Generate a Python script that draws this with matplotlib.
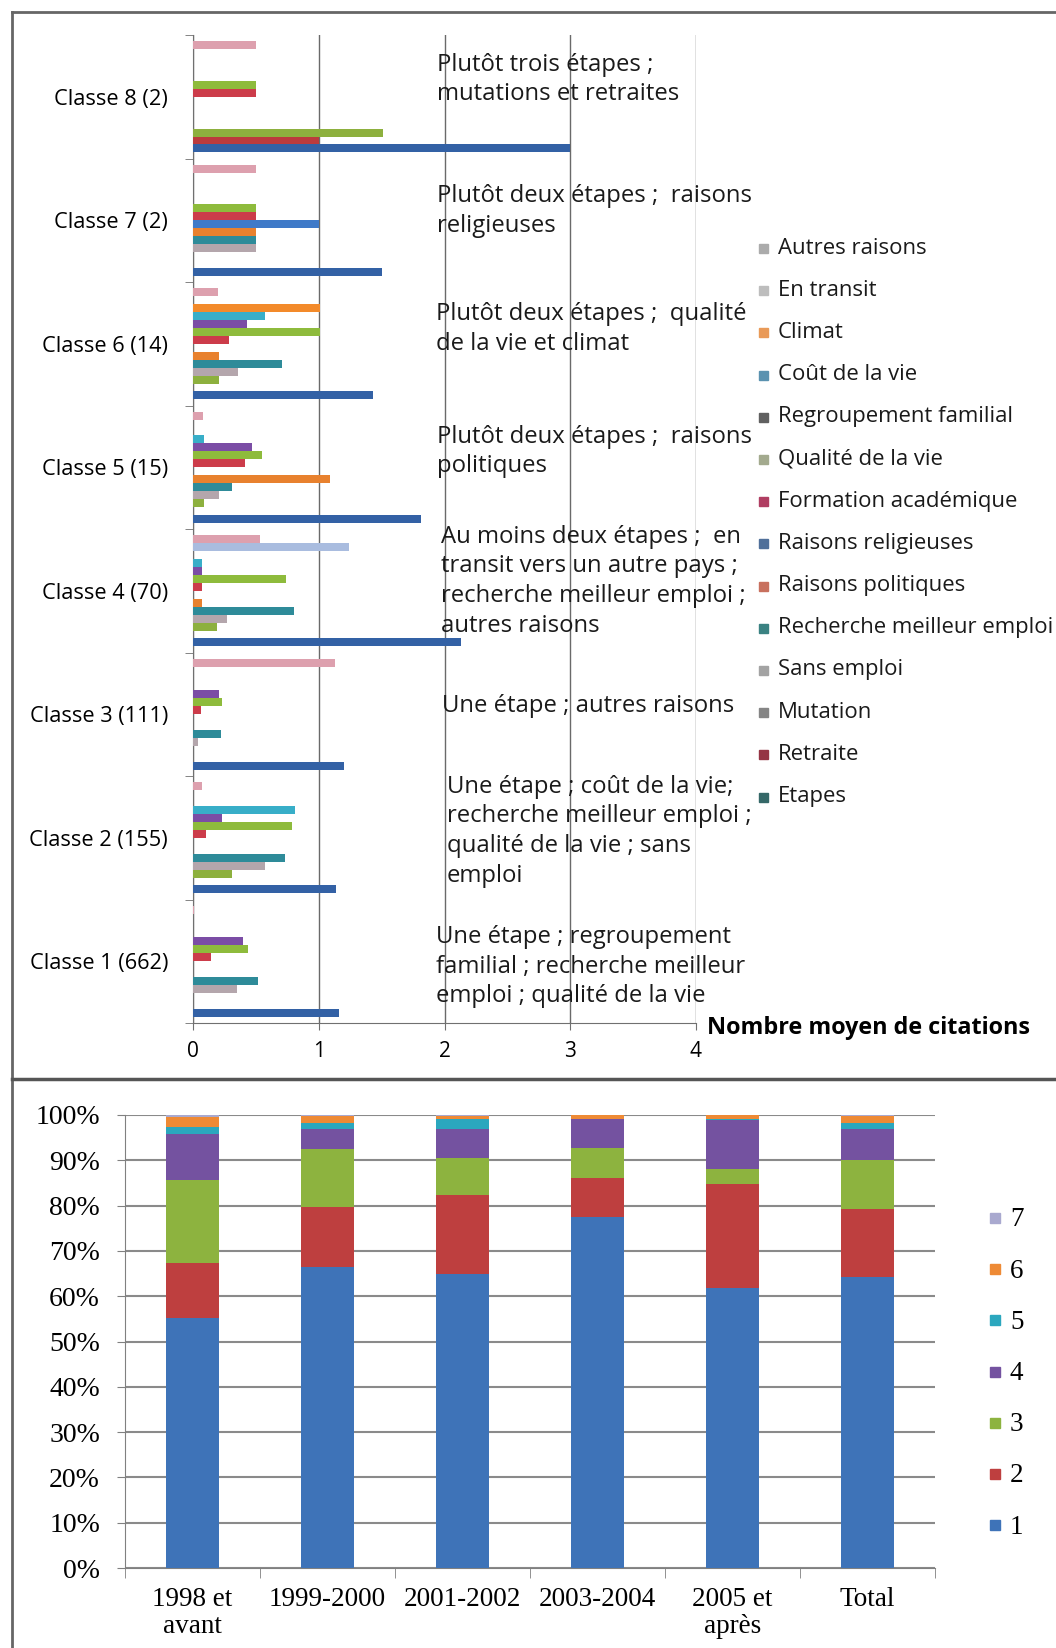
import matplotlib
matplotlib.use('Agg')
from matplotlib import pyplot as plt
from matplotlib.patches import Rectangle
from matplotlib.lines import Line2D
import numpy as np

W, H = 1056, 1648

# ---- top chart: nombre moyen de citations par classe ----
classes = ['Classe 1 (662)', 'Classe 2 (155)', 'Classe 3 (111)', 'Classe 4 (70)',
           'Classe 5 (15)', 'Classe 6 (14)', 'Classe 7 (2)', 'Classe 8 (2)']
# series from bottom of each cluster to top
series_names = ['Etapes', 'Retraite', 'Mutation', 'Sans emploi', 'Recherche meilleur emploi',
                'Raisons politiques', 'Raisons religieuses', 'Formation académique',
                'Qualité de la vie', 'Regroupement familial', 'Coût de la vie', 'Climat',
                'En transit', 'Autres raisons']
etapes = [1.16, 1.14, 1.20, 2.13, 1.81, 1.43, 1.50, 3.00]
retraite = [0, 0, 0, 0, 0, 0, 0, 1.00]
mutation = [0, 0.31, 0, 0.19, 0.085, 0.21, 0, 1.51]
sans_emploi = [0.35, 0.57, 0.04, 0.27, 0.21, 0.36, 0.50, 0]
recherche = [0.52, 0.73, 0.22, 0.80, 0.31, 0.71, 0.50, 0]
politiques = [0, 0, 0, 0.075, 1.09, 0.21, 0.50, 0]
religieuses = [0, 0, 0, 0, 0, 0, 1.00, 0]
formation = [0.14, 0.10, 0.06, 0.075, 0.41, 0.29, 0.50, 0.50]
qualite = [0.44, 0.79, 0.23, 0.74, 0.55, 1.01, 0.50, 0.50]
regroupement = [0.40, 0.23, 0.21, 0.075, 0.47, 0.43, 0, 0]
cout = [0, 0.81, 0, 0.075, 0.085, 0.57, 0, 0]
climat = [0, 0, 0, 0, 0, 1.01, 0, 0]
transit = [0, 0, 0, 1.24, 0, 0, 0, 0]
autres = [0.01, 0.075, 1.13, 0.53, 0.08, 0.20, 0.50, 0.50]
series_vals = [etapes, retraite, mutation, sans_emploi, recherche, politiques, religieuses,
               formation, qualite, regroupement, cout, climat, transit, autres]
bar_colors = ['#3361A5', '#BB3B3D', '#8DB03E', '#B4A6AC', '#2E8B99', '#E8812E', '#3F7AC8',
              '#CC3C4A', '#8EBB3C', '#7B4DA5', '#38AEC8', '#F38A2A', '#A9BCDF', '#DDA0AE']
legend_colors = ['#356868', '#953444', '#858585', '#A3A3A3', '#3A8282', '#C8705E', '#50709A',
                 '#B03E62', '#A3AA8E', '#606060', '#5A92B0', '#E99A58', '#BDBDBD', '#ABABAB']

notes = [
    ['Plutôt trois étapes ;', 'mutations et retraites'],
    ['Plutôt deux étapes ;  raisons', 'religieuses'],
    ['Plutôt deux étapes ;  qualité', 'de la vie et climat'],
    ['Plutôt deux étapes ;  raisons', 'politiques'],
    ['Au moins deux étapes ;  en', 'transit vers un autre pays ;',
     'recherche meilleur emploi ;', 'autres raisons'],
    ['Une étape ; autres raisons'],
    ['Une étape ; coût de la vie;', 'recherche meilleur emploi ;',
     'qualité de la vie ; sans', 'emploi'],
    ['Une étape ; regroupement', 'familial ; recherche meilleur',
     'emploi ; qualité de la vie'],
]
note_pos = [(437, 65), (437, 196), (436, 314), (437, 437), (441, 537), (442, 706),
            (447, 787), (436, 937)]

# ---- bottom chart: répartition des classes par période ----
periods = ['1998 et\navant', '1999-2000', '2001-2002', '2003-2004', '2005 et\naprès', 'Total']
c1 = [55.2, 66.5, 64.9, 77.5, 61.9, 64.2]
c2 = [12.1, 13.2, 17.4, 8.6, 22.9, 15.1]
c3 = [18.3, 12.8, 8.2, 6.7, 3.3, 10.8]
c4 = [10.1, 4.5, 6.5, 6.3, 10.9, 6.7]
c5 = [1.7, 1.3, 2.1, 0.0, 0.2, 1.5]
c6 = [2.1, 1.5, 0.7, 0.9, 0.8, 1.5]
c7 = [0.5, 0.2, 0.2, 0.0, 0.0, 0.2]
stack_names = ['1', '2', '3', '4', '5', '6', '7']
stack_colors = ['#3E73B8', '#BE3F3F', '#8DB33F', '#7452A0', '#2BA7BE', '#EE8A35', '#A9A9CF']

plt.rcParams['font.family'] = ['Open Sans', 'DejaVu Sans']


def rect(l, t, r, b):
    return [l / W, 1 - b / H, (r - l) / W, (b - t) / H]


fig = plt.figure(figsize=(W / 100, H / 100), dpi=100)

# ---------------- top ----------------
ax = fig.add_axes(rect(193, 35, 696, 1023))
n = len(series_names)
step = 1 / (n + 1.53)
y = np.arange(len(classes))
for k, (vals, col) in enumerate(zip(series_vals, bar_colors)):
    pos = y - 0.5 + 0.765 * step + step * (k + 0.5)
    ax.barh(pos, vals, height=step, color=col, linewidth=0, zorder=3)
ax.set_ylim(-0.5, len(classes) - 0.5)
ax.set_xlim(0, 4)
ax.set_xticks([0, 1, 2, 3, 4])
ax.set_yticks(y)
ax.set_yticklabels(classes, fontsize=15.7)
ax.set_yticks(np.arange(-0.5, len(classes)), minor=True)
ax.tick_params(axis='y', which='major', length=0, pad=18)
ax.tick_params(axis='y', which='minor', length=6, color='#707070', direction='out')
ax.tick_params(axis='x', length=5, pad=8, labelsize=15, color='#707070')
ax.grid(axis='x', color='#6a6a6a', linewidth=1, zorder=0)
for s in ['top', 'right']:
    ax.spines[s].set_visible(False)
for s in ['left', 'bottom']:
    ax.spines[s].set_color('#707070')

for lines, (x0, y0) in zip(notes, note_pos):
    for i, line in enumerate(lines):
        fig.text(x0 / W, 1 - (y0 + i * 29.5) / H, line, fontsize=17.2, va='center',
                 ha='left', color='#1a1a1a')

fig.text(707 / W, 1 - 1028 / H, 'Nombre moyen de citations', fontsize=16.8,
         fontweight='bold', va='center', ha='left')

# legend, Etapes at the bottom
for i, (name, col) in enumerate(zip(series_names[::-1], legend_colors[::-1])):
    yc = 248 + i * 42.2
    fig.patches.append(Rectangle((759 / W, 1 - (yc + 5) / H), 9 / W, 9 / H,
                                 transform=fig.transFigure, color=col, figure=fig))
    fig.text(778 / W, 1 - yc / H, name, fontsize=15.9, va='center', ha='left',
             color='#1a1a1a')

# ---------------- bottom ----------------
ax2 = fig.add_axes(rect(125, 1115, 935, 1568))
xb = np.arange(len(periods))
bottom = np.zeros(len(periods))
for vals, col, name in zip([c1, c2, c3, c4, c5, c6, c7], stack_colors, stack_names):
    ax2.bar(xb, vals, width=0.39, bottom=bottom, color=col, linewidth=0, zorder=3, label=name)
    bottom += np.array(vals)
ax2.set_xlim(-0.5, len(periods) - 0.5)
ax2.set_ylim(0, 100)
ax2.set_yticks(np.arange(0, 101, 10))
ax2.set_yticklabels([f'{v}%' for v in range(0, 101, 10)], family='Liberation Serif',
                    fontsize=20)
ax2.set_xticks(xb)
ax2.set_xticklabels(periods, family='Liberation Serif', fontsize=19.5, linespacing=1.1)
ax2.set_xticks(np.arange(-0.5, len(periods)), minor=True)
ax2.tick_params(axis='x', which='major', length=0, pad=14)
ax2.tick_params(axis='x', which='minor', length=7, color='#808080')
ax2.tick_params(axis='y', length=6, color='#808080', pad=12)
ax2.grid(axis='y', color='#8a8a8a', linewidth=1.5, zorder=0)
for s in ['top', 'right']:
    ax2.spines[s].set_visible(False)
for s in ['left', 'bottom']:
    ax2.spines[s].set_color('#808080')

for i, (name, col) in enumerate(zip(stack_names[::-1], stack_colors[::-1])):
    yc = 1218 + i * 51.2
    fig.patches.append(Rectangle((990 / W, 1 - (yc + 5) / H), 10 / W, 10 / H,
                                 transform=fig.transFigure, color=col, figure=fig))
    fig.text(1010 / W, 1 - (yc + 2) / H, name, family='Liberation Serif', fontsize=19.5,
             va='center', ha='left')

# panel frames
frame = dict(transform=fig.transFigure, color='#666666', linewidth=2)
fig.add_artist(Line2D([12 / W, 1], [1 - 12 / H, 1 - 12 / H], **frame))
fig.add_artist(Line2D([12 / W, 12 / W], [0, 1 - 12 / H], **frame))
fig.add_artist(Line2D([12 / W, 1], [1 - 1079 / H, 1 - 1079 / H], color='#555555',
                      linewidth=2.5, transform=fig.transFigure))

fig.savefig('out.png', dpi=100)
